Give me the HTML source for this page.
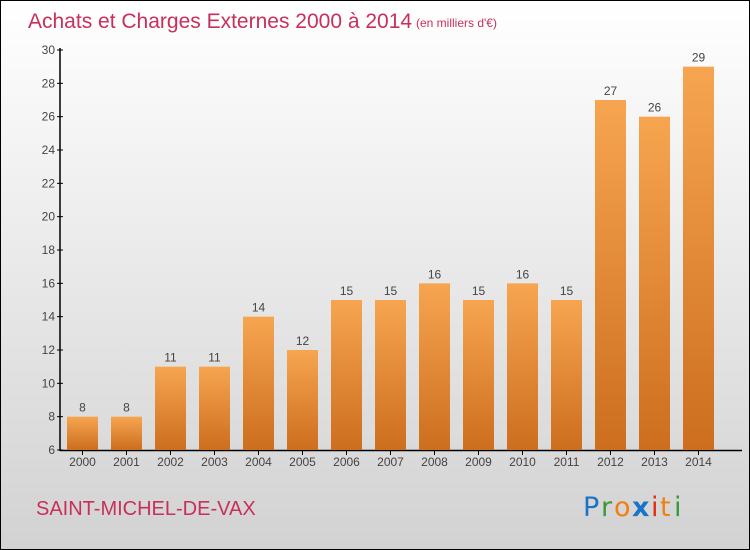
<!DOCTYPE html>
<html><head><meta charset="utf-8"><style>
body{margin:0}
#c{width:750px;height:550px;position:relative;box-sizing:border-box;border:1px solid #000;background:linear-gradient(#ffffff,#d2d2d2);font-family:"Liberation Sans",sans-serif;overflow:hidden}
</style></head><body>
<div id="c">
<svg width="750" height="550" style="position:absolute;left:-1px;top:-1px">
<defs><linearGradient id="bg" x1="0" y1="0" x2="0" y2="1"><stop offset="0" stop-color="#f7a550"/><stop offset="1" stop-color="#cc6e1e"/></linearGradient></defs>
<text x="28" y="28" font-size="21" fill="#c8305a">Achats et Charges Externes 2000 à 2014</text>
<text x="416" y="27" font-size="12" fill="#c8305a">(en milliers d'€)</text>
<g id="ax"></g><g id="bars"></g>
<text x="36" y="515" font-size="20" fill="#c8305a">SAINT-MICHEL-DE-VAX</text>
<g font-size="27" font-family="'DejaVu Sans',sans-serif">
<text x="583" y="516" fill="#1a73c8">P</text><text x="601" y="516" fill="#3a9a3a">r</text><text x="614" y="516" fill="#f08010">o</text><text x="632" y="516" fill="#1a73c8" font-weight="bold">x</text><text x="651" y="516" fill="#e03010">i</text><text x="660" y="516" fill="#f08010">t</text><text x="674" y="516" fill="#3a9a3a">i</text>
</g>
</svg>
</div>
<script>
const years=["2000","2001","2002","2003","2004","2005","2006","2007","2008","2009","2010","2011","2012","2013","2014"];
const values=[8,8,11,11,14,12,15,15,16,15,16,15,27,26,29];
const yTicks=[6,8,10,12,14,16,18,20,22,24,26,28,30];
const NS="http://www.w3.org/2000/svg";
const y=v=>450-(v-6)*400/24;
const x=i=>82.5+i*44;
function mk(t,a,p,txt){const e=document.createElementNS(NS,t);for(const k in a)e.setAttribute(k,a[k]);if(txt!==undefined)e.textContent=txt;p.appendChild(e);return e;}
const ax=document.getElementById('ax'),bars=document.getElementById('bars');
let l=mk('line',{x1:60,y1:48,x2:60,y2:451,stroke:'#000','stroke-width':1.5},ax);


l=mk('line',{x1:60,y1:450.5,x2:742,y2:450.5,stroke:'#000','stroke-width':1.5},ax);


yTicks.forEach(v=>{
  mk('line',{x1:57,y1:y(v),x2:63,y2:y(v),stroke:'#000'},ax);
  const t=mk('text',{x:55,y:y(v)+4,'text-anchor':'end','font-size':12,fill:'#444'},ax,v);
  
  
});
years.forEach((yr,i)=>{
  mk('line',{x1:x(i),y1:450,x2:x(i),y2:455,stroke:'#000'},ax);
  const t=mk('text',{x:x(i),y:466,'text-anchor':'middle','font-size':12,fill:'#444'},ax,yr);
  
  
  const b=mk('rect',{x:x(i)-15.5,y:y(values[i]),width:31,height:450-y(values[i]),fill:'url(#bg)'},bars);
  
  
  const v=mk('text',{x:x(i),y:y(values[i])-5,'text-anchor':'middle','font-size':12,fill:'#444'},bars,values[i]);
  
  
});
</script>
</body></html>
